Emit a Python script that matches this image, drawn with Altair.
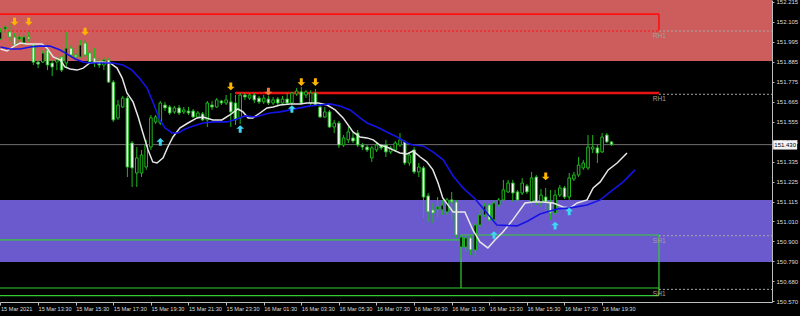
import json
import altair as alt
import pandas as pd

# ---------------- data ----------------
OPEN = [152.011, 152.066, 152.050, 152.022, 152.011, 151.989, 152.022, 151.978, 151.884, 151.884,
        151.950, 151.879, 151.884, 151.912, 151.879, 151.961, 151.923, 151.912, 151.989, 151.934,
        151.907, 151.884, 151.868, 151.896, 151.774, 151.577, 151.637, 151.686, 151.439, 151.274,
        151.274, 151.307, 151.417, 151.555, 151.549, 151.648, 151.637, 151.610, 151.632, 151.610,
        151.615, 151.615, 151.582, 151.599, 151.566, 151.648, 151.637, 151.670, 151.659, 151.665,
        151.659, 151.577, 151.703, 151.686, 151.703, 151.686, 151.665, 151.681, 151.659, 151.681,
        151.659, 151.681, 151.659, 151.709, 151.720, 151.703, 151.659, 151.714, 151.637, 151.582,
        151.610, 151.527, 151.549, 151.428, 151.456, 151.467, 151.494, 151.428, 151.417, 151.357,
        151.401, 151.423, 151.428, 151.390, 151.401, 151.428, 151.445, 151.329, 151.401, 151.280,
        151.302, 151.148, 151.071, 151.076, 151.071, 151.060, 151.126, 151.115, 150.867, 150.867,
        150.917, 150.851, 150.988, 151.043, 151.098, 151.016, 151.098, 151.126, 151.170, 151.219,
        151.170, 151.164, 151.203, 151.115, 151.252, 151.109, 151.142, 151.115, 151.054, 151.153,
        151.192, 151.142, 151.241, 151.263, 151.302, 151.302, 151.406, 151.412, 151.390, 151.483,
        151.445]
HIGH = [152.071, 152.088, 152.099, 152.044, 152.044, 152.033, 152.050, 151.989, 151.896, 151.950,
        151.995, 151.896, 151.912, 151.923, 152.050, 151.978, 151.939, 152.006, 152.006, 151.950,
        151.961, 151.907, 151.912, 151.907, 151.785, 151.676, 151.698, 151.698, 151.450, 151.417,
        151.401, 151.456, 151.593, 151.593, 151.670, 151.665, 151.648, 151.643, 151.648, 151.637,
        151.637, 151.626, 151.615, 151.610, 151.670, 151.670, 151.686, 151.676, 151.703, 151.714,
        151.703, 151.714, 151.714, 151.714, 151.714, 151.698, 151.703, 151.698, 151.692, 151.692,
        151.698, 151.714, 151.720, 151.741, 151.747, 151.730, 151.730, 151.736, 151.648, 151.637,
        151.621, 151.566, 151.560, 151.483, 151.527, 151.494, 151.511, 151.439, 151.428, 151.423,
        151.439, 151.434, 151.456, 151.423, 151.450, 151.494, 151.456, 151.390, 151.417, 151.329,
        151.313, 151.164, 151.109, 151.142, 151.126, 151.137, 151.170, 151.126, 150.933, 150.928,
        150.933, 150.999, 151.071, 151.109, 151.109, 151.120, 151.137, 151.236, 151.236, 151.236,
        151.181, 151.247, 151.214, 151.280, 151.263, 151.186, 151.192, 151.181, 151.181, 151.208,
        151.203, 151.274, 151.280, 151.362, 151.346, 151.483, 151.483, 151.428, 151.494, 151.494,
        151.450]
LOW = [152.006, 152.044, 151.995, 151.967, 151.989, 151.978, 151.995, 151.868, 151.851, 151.879,
       151.840, 151.807, 151.840, 151.829, 151.851, 151.907, 151.896, 151.907, 151.912, 151.879,
       151.857, 151.851, 151.840, 151.769, 151.555, 151.566, 151.632, 151.252, 151.197, 151.197,
       151.252, 151.291, 151.401, 151.544, 151.538, 151.615, 151.593, 151.599, 151.593, 151.599,
       151.593, 151.577, 151.577, 151.560, 151.527, 151.621, 151.632, 151.648, 151.648, 151.527,
       151.538, 151.544, 151.676, 151.676, 151.659, 151.654, 151.654, 151.648, 151.648, 151.648,
       151.654, 151.648, 151.648, 151.698, 151.648, 151.686, 151.648, 151.643, 151.577, 151.577,
       151.522, 151.494, 151.412, 151.417, 151.439, 151.439, 151.417, 151.401, 151.390, 151.335,
       151.390, 151.401, 151.362, 151.379, 151.390, 151.417, 151.318, 151.313, 151.269, 151.252,
       151.027, 151.005, 150.999, 151.032, 151.043, 151.043, 151.016, 150.917, 150.807, 150.840,
       150.823, 150.812, 150.977, 151.032, 151.005, 151.005, 151.087, 151.115, 151.164, 151.115,
       151.115, 151.153, 151.159, 151.087, 151.098, 151.087, 151.071, 151.016, 151.043, 151.142,
       151.131, 151.126, 151.230, 151.252, 151.291, 151.291, 151.384, 151.329, 151.384, 151.439,
       151.423]
CLOSE = [152.050, 152.077, 152.022, 151.978, 152.022, 152.022, 152.011, 151.884, 151.873, 151.934,
         151.868, 151.857, 151.896, 151.840, 151.961, 151.923, 151.912, 151.978, 151.923, 151.884,
         151.884, 151.868, 151.896, 151.774, 151.566, 151.648, 151.686, 151.307, 151.302, 151.357,
         151.373, 151.428, 151.577, 151.582, 151.659, 151.632, 151.604, 151.632, 151.604, 151.621,
         151.604, 151.582, 151.604, 151.566, 151.659, 151.637, 151.676, 151.659, 151.676, 151.610,
         151.566, 151.703, 151.692, 151.703, 151.676, 151.665, 151.686, 151.659, 151.676, 151.659,
         151.681, 151.659, 151.714, 151.725, 151.659, 151.720, 151.714, 151.648, 151.582, 151.610,
         151.527, 151.549, 151.428, 151.467, 151.500, 151.450, 151.428, 151.417, 151.401, 151.412,
         151.428, 151.412, 151.390, 151.412, 151.439, 151.456, 151.329, 151.373, 151.280, 151.307,
         151.142, 151.060, 151.054, 151.087, 151.098, 151.126, 151.115, 150.933, 150.922, 150.917,
         150.851, 150.988, 151.043, 151.093, 151.016, 151.109, 151.126, 151.181, 151.219, 151.164,
         151.126, 151.219, 151.170, 151.247, 151.115, 151.153, 151.115, 151.054, 151.153, 151.192,
         151.142, 151.247, 151.263, 151.318, 151.329, 151.417, 151.417, 151.384, 151.472, 151.445,
         151.430]

# 15-minute bars; one axis label every 8 bars
TIME_TICK_BARS = [0, 8, 16, 24, 32, 40, 48, 56, 64, 72, 80, 88, 96, 104, 112, 120, 128]
TIME_LABELS = ["15 Mar 2021", "15 Mar 13:30", "15 Mar 15:30", "15 Mar 17:30", "15 Mar 19:30",
               "15 Mar 21:30", "15 Mar 23:30", "16 Mar 01:30", "16 Mar 03:30", "16 Mar 05:30",
               "16 Mar 07:30", "16 Mar 09:30", "16 Mar 11:30", "16 Mar 13:30", "16 Mar 15:30",
               "16 Mar 17:30", "16 Mar 19:30"]
PRICE_TICKS = [152.215, 152.105, 151.995, 151.885, 151.775, 151.665, 151.555, 151.445,
               151.335, 151.225, 151.115, 151.010, 150.900, 150.790, 150.680, 150.570]

WHITE_MA_BAR = [0, 1.4, 2.9, 4.2, 5.6, 6.9, 8.8, 9.9, 11.2, 12.7, 13.7, 14.8, 16.3, 17.6, 19.0,
                20.5, 21.8, 23.3, 24.8, 25.9, 26.9, 28.2, 29.3, 30.3, 31.4, 32.4, 33.3, 34.6,
                35.6, 36.7, 38.2, 39.9, 41.8, 43.1, 45.2, 47.1, 48.8, 50.5, 51.6, 52.7, 53.7,
                55.2, 56.7, 58.0, 59.5, 61.6, 63.7, 65.2, 67.6, 69.5, 71.2, 72.9, 75.0, 76.5,
                78.0, 79.3, 80.7, 82.2, 83.5, 85.0, 86.5, 87.8, 89.3, 90.7, 92.0, 93.1, 94.1,
                96.3, 98.8, 100.5, 102.0, 103.7, 105.2, 106.9, 109.0, 111.6, 113.3, 115.4,
                117.6, 119.7, 121.2, 122.7, 124.8, 126.1, 127.6, 129.3, 131.2, 133.3]
WHITE_MA = [151.956, 151.945, 151.972, 151.989, 151.984, 151.984, 151.984, 151.961, 151.912,
            151.896, 151.857, 151.846, 151.840, 151.851, 151.879, 151.884, 151.884, 151.879,
            151.851, 151.796, 151.714, 151.665, 151.582, 151.494, 151.401, 151.335, 151.329,
            151.357, 151.417, 151.472, 151.522, 151.549, 151.577, 151.582, 151.566, 151.566,
            151.593, 151.626, 151.610, 151.577, 151.577, 151.604, 151.632, 151.637, 151.648,
            151.654, 151.654, 151.659, 151.659, 151.648, 151.621, 151.577, 151.500, 151.472,
            151.467, 151.456, 151.428, 151.417, 151.401, 151.384, 151.379, 151.395, 151.362,
            151.335, 151.291, 151.219, 151.137, 151.060, 151.060, 150.961, 150.895, 150.862,
            150.906, 150.950, 151.016, 151.109, 151.115, 151.115, 151.109, 151.087, 151.082,
            151.109, 151.126, 151.192, 151.225, 151.291, 151.329, 151.384]
BLUE_MA_BAR = [0, 2.0, 4.2, 6.3, 8.4, 10.5, 11.6, 12.7, 14.2, 15.9, 17.6, 19.7, 21.8, 23.9,
               26.1, 28.0, 29.7, 31.2, 32.5, 33.9, 35.0, 36.5, 37.8, 39.3, 41.0, 43.1, 45.2,
               48.2, 50.3, 52.0, 54.2, 57.3, 59.5, 61.6, 63.7, 65.9, 68.0, 70.1, 72.2, 74.4,
               76.5, 78.0, 80.1, 82.2, 84.4, 86.5, 87.8, 89.9, 92.0, 94.2, 96.3, 98.4, 101.0,
               103.5, 105.6, 109.9, 112.2, 114.8, 118.4, 121.2, 124.8, 127.6, 130.3, 132.5, 135.0]
BLUE_MA = [151.967, 151.956, 151.956, 151.967, 151.972, 151.972, 151.961, 151.950, 151.928,
           151.901, 151.884, 151.879, 151.879, 151.879, 151.868, 151.840, 151.791, 151.741,
           151.659, 151.566, 151.522, 151.494, 151.494, 151.516, 151.533, 151.549, 151.555,
           151.555, 151.571, 151.588, 151.582, 151.604, 151.610, 151.621, 151.632, 151.643,
           151.648, 151.654, 151.643, 151.621, 151.577, 151.549, 151.527, 151.500, 151.472,
           151.439, 151.428, 151.423, 151.390, 151.346, 151.258, 151.192, 151.131, 151.054,
           150.988, 150.983, 151.010, 151.048, 151.076, 151.082, 151.098, 151.126, 151.181,
           151.225, 151.291]

SELL_ARROW_BAR = [3, 6, 18, 49, 64, 67, 116]
SELL_ARROW_PRICE = [152.107, 152.107, 152.052, 151.750, 151.774, 151.774, 151.255]
ALERT_ARROW_BAR = [57]
ALERT_ARROW_PRICE = [151.722]
BUY_ARROW_BAR = [34, 51, 62, 105, 118, 121]
BUY_ARROW_PRICE = [151.445, 151.516, 151.626, 150.933, 150.985, 151.063]

CURRENT_PRICE = 151.430
RESIST_ZONE = [151.890, 152.2255]
SUPPORT_ZONE = [150.785, 151.126]

LEVEL_END_BAR = 140.1          # right edge of the drawn boxes
RH1_BOX = [152.055, 152.148]
RH1_BAND = [151.7065, 151.7205]
RH1_BAND_START = 49.9
SH1_SPLIT_BAR = 97.98
SH1_LEVELS = [150.906, 150.933, 150.6415, 150.600]
EXT_LEVELS = [152.055, 151.707, 150.929, 150.634]
EXT_NAMES = ["RH1", "RH1", "SH1", "SH1"]
LABEL_BAR = 138.8
PRICE_BOX_BARS = [164.4, 169.5]

# ---------------- scales / axes ----------------
XMIN, XMAX = -0.106, 164.149
YMIN, YMAX = 150.5645, 152.2255
GREEN = "#1fb81f"
FONT = "Liberation Sans"

XS = alt.Scale(domain=[XMIN, XMAX], nice=False, zero=False, padding=0)
YS = alt.Scale(domain=[YMIN, YMAX], nice=False, zero=False, padding=0)
XAX = alt.Axis(values=TIME_TICK_BARS, labelExpr=f"{json.dumps(TIME_LABELS)}[round(datum.value/8)]",
               title=None, grid=False, orient="bottom", domainColor="#bdbdbd", tickColor="#bdbdbd",
               tickSize=3, labelColor="#dcdcdc", labelFont=FONT, labelFontSize=5.6, labelAlign="left",
               labelBaseline="top", labelPadding=1, labelOverlap=False, labelFlush=False)
YAX = alt.Axis(values=PRICE_TICKS, format=".3f", title=None, grid=False, orient="right",
               domainColor="#bdbdbd", tickColor="#bdbdbd", tickSize=2, labelColor="#dcdcdc",
               labelFont=FONT, labelFontSize=6, labelAlign="left", labelBaseline="middle",
               labelPadding=2, labelOverlap=False, labelFlush=False)


def X(f):
    return alt.X(f"{f}:Q", scale=XS, axis=XAX, title=None)


def Y(f):
    return alt.Y(f"{f}:Q", scale=YS, axis=YAX, title=None)


candles = pd.DataFrame({"bar": list(range(len(OPEN))), "open": OPEN, "high": HIGH,
                        "low": LOW, "close": CLOSE})

zones = pd.DataFrame({"x": [XMIN, XMIN], "x2": [XMAX, XMAX],
                      "y": [RESIST_ZONE[0], SUPPORT_ZONE[0]], "y2": [RESIST_ZONE[1], SUPPORT_ZONE[1]],
                      "c": ["#cd5c5c", "#6a5acd"]})
zone_layer = alt.Chart(zones).mark_rect().encode(
    x=X("x"), x2="x2", y=Y("y"), y2="y2", color=alt.Color("c:N", scale=None))

red_solid = pd.DataFrame({"x": [XMIN, LEVEL_END_BAR], "x2": [LEVEL_END_BAR, LEVEL_END_BAR],
                          "y": [RH1_BOX[1], RH1_BOX[1]], "y2": [RH1_BOX[1], RH1_BOX[0]]})
red_solid_layer = alt.Chart(red_solid).mark_rule(color="#ff1010", strokeWidth=1.6).encode(
    x=X("x"), x2="x2", y=Y("y"), y2="y2")
red_dot = pd.DataFrame({"x": [XMIN], "x2": [LEVEL_END_BAR], "y": [RH1_BOX[0]]})
red_dot_layer = alt.Chart(red_dot).mark_rule(color="#ff1010", strokeWidth=1.2, strokeDash=[2, 2]).encode(
    x=X("x"), x2="x2", y=Y("y"))
red_band = pd.DataFrame({"x": [RH1_BAND_START], "x2": [LEVEL_END_BAR], "y": [RH1_BAND[0]], "y2": [RH1_BAND[1]]})
red_band_layer = alt.Chart(red_band).mark_rect(color="#e81414").encode(
    x=X("x"), x2="x2", y=Y("y"), y2="y2")

cur = pd.DataFrame({"x": [XMIN], "x2": [XMAX], "y": [CURRENT_PRICE]})
cur_layer = alt.Chart(cur).mark_rule(color="#707070", strokeWidth=1).encode(x=X("x"), x2="x2", y=Y("y"))

green = pd.DataFrame({
    "x": [XMIN, SH1_SPLIT_BAR, SH1_SPLIT_BAR, LEVEL_END_BAR, XMIN, XMIN],
    "x2": [SH1_SPLIT_BAR, SH1_SPLIT_BAR, LEVEL_END_BAR, LEVEL_END_BAR, LEVEL_END_BAR, LEVEL_END_BAR],
    "y": [SH1_LEVELS[0], SH1_LEVELS[1], SH1_LEVELS[1], SH1_LEVELS[1], SH1_LEVELS[2], SH1_LEVELS[3]],
    "y2": [SH1_LEVELS[0], SH1_LEVELS[2], SH1_LEVELS[1], SH1_LEVELS[3], SH1_LEVELS[2], SH1_LEVELS[3]]})
green_layer = alt.Chart(green).mark_rule(color="#32cd32", strokeWidth=1.2).encode(
    x=X("x"), x2="x2", y=Y("y"), y2="y2")

ext = pd.DataFrame({"x": [LEVEL_END_BAR] * 4, "x2": [XMAX] * 4, "y": EXT_LEVELS,
                    "name": EXT_NAMES, "lx": [LABEL_BAR] * 4})
ext_layer = alt.Chart(ext).mark_rule(color="#a8a8a8", strokeWidth=1, strokeDash=[2, 2]).encode(
    x=X("x"), x2="x2", y=Y("y"))
ext_text = alt.Chart(ext).mark_text(align="left", baseline="top", dy=2, font=FONT, fontSize=6.5,
                                    color="#a0a0a0").encode(x=X("lx"), y=Y("y"), text="name:N")

wick = alt.Chart(candles).mark_rule(color=GREEN, strokeWidth=1).encode(
    x=X("bar"), y=Y("low"), y2="high")
body = alt.Chart(candles).mark_bar(size=2.6, stroke=GREEN, strokeWidth=1).encode(
    x=X("bar"), y=Y("open"), y2="close",
    fill=alt.condition("datum.close >= datum.open", alt.value("#000000"), alt.value("#ffffff")))

white_ma = alt.Chart(pd.DataFrame({"bar": WHITE_MA_BAR, "v": WHITE_MA})).mark_line(
    color="#e6e6e6", strokeWidth=1.5).encode(x=X("bar"), y=Y("v"))
blue_ma = alt.Chart(pd.DataFrame({"bar": BLUE_MA_BAR, "v": BLUE_MA})).mark_line(
    color="#1414e6", strokeWidth=1.6).encode(x=X("bar"), y=Y("v"))

DOWN = "M-0.38,-1H0.38V0.05H1L0,1L-1,0.05H-0.38Z"
UP = "M-0.38,1H0.38V-0.05H1L0,-1L-1,-0.05H-0.38Z"
sell = alt.Chart(pd.DataFrame({"bar": SELL_ARROW_BAR, "p": SELL_ARROW_PRICE})).mark_point(
    shape=DOWN, filled=True, size=60, color="#ffb400", opacity=1).encode(x=X("bar"), y=Y("p"))
alert = alt.Chart(pd.DataFrame({"bar": ALERT_ARROW_BAR, "p": ALERT_ARROW_PRICE})).mark_point(
    shape=DOWN, filled=True, size=60, color="#f07a38", opacity=1).encode(x=X("bar"), y=Y("p"))
buy = alt.Chart(pd.DataFrame({"bar": BUY_ARROW_BAR, "p": BUY_ARROW_PRICE})).mark_point(
    shape=UP, filled=True, size=60, color="#3fd6f2", opacity=1).encode(x=X("bar"), y=Y("p"))

pbox = pd.DataFrame({"x": [PRICE_BOX_BARS[0]], "x2": [PRICE_BOX_BARS[1]],
                     "y": [CURRENT_PRICE - 0.027], "y2": [CURRENT_PRICE + 0.024],
                     "xm": [(PRICE_BOX_BARS[0] + PRICE_BOX_BARS[1]) / 2], "p": [CURRENT_PRICE],
                     "t": [f"{CURRENT_PRICE:.3f}"]})
pbox_rect = alt.Chart(pbox).mark_rect(color="#f4f4f4").encode(x=X("x"), x2="x2", y=Y("y"), y2="y2")
pbox_text = alt.Chart(pbox).mark_text(font=FONT, fontSize=6, color="#000000", baseline="middle").encode(
    x=X("xm"), y=Y("p"), text="t:N")

chart = alt.layer(
    zone_layer, red_solid_layer, red_dot_layer, red_band_layer, cur_layer, green_layer,
    ext_layer, ext_text, wick, body, white_ma, blue_ma, sell, alert, buy, pbox_rect, pbox_text
).properties(
    width=772, height=302,
    padding={"left": 0, "top": 0, "right": 28, "bottom": 14},
    autosize=alt.AutoSizeParams(type="none"),
).configure(background="#000000").configure_view(strokeWidth=0)

chart.save("out.html", embed_options={"renderer": "svg", "actions": False})
